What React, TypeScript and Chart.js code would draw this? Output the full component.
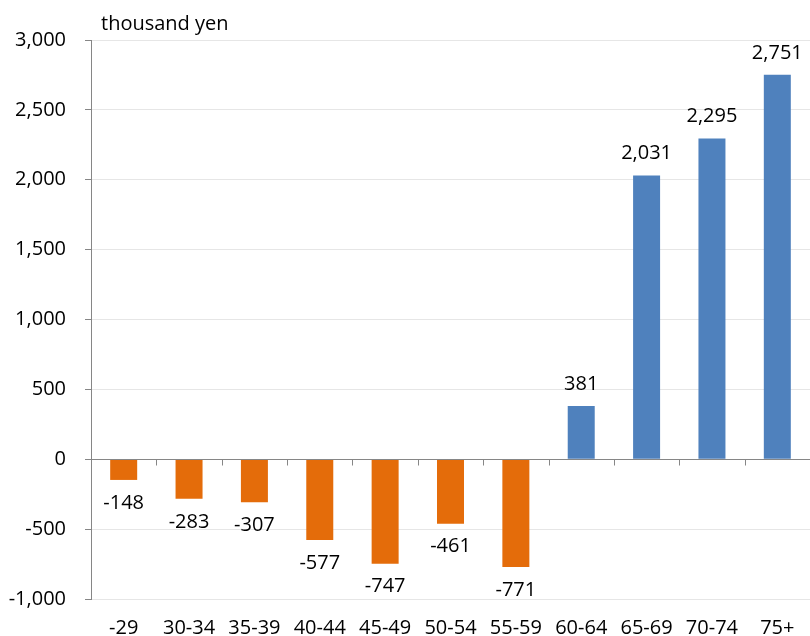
import React, { useEffect, useRef } from "react";
import { Chart, registerables } from "chart.js";

Chart.register(...registerables);

// Age groups of household head and the net figure for each (thousand yen)
const categories: string[] = ["-29", "30-34", "35-39", "40-44", "45-49", "50-54", "55-59", "60-64", "65-69", "70-74", "75+"];
const values: number[] = [-148, -283, -307, -577, -747, -461, -771, 381, 2031, 2295, 2751];

const yMin = -1000;
const yMax = 3000;
const yStep = 500;
const unitLabel = "thousand yen";

const FONT_FAMILY = "'Open Sans', 'Noto Sans', sans-serif";
const FONT_SIZE = 20;
const AXIS_GRAY = "#868686";
const GRID_GRAY = "#e6e6e6";
const NEG_COLOR = "#E46C0A";
const POS_COLOR = "#4F81BD";

const fmt = (v: number) => v.toLocaleString("en-US");

// Value labels above positive bars and below negative bars
const valueLabels = {
  id: "valueLabels",
  afterDatasetsDraw(chart: any) {
    const ctx = chart.ctx;
    const meta = chart.getDatasetMeta(0);
    const data = chart.data.datasets[0].data as number[];
    ctx.save();
    ctx.font = `${FONT_SIZE}px ${FONT_FAMILY}`;
    ctx.fillStyle = "#000";
    ctx.textAlign = "center";
    ctx.textBaseline = "middle";
    meta.data.forEach((bar: any, i: number) => {
      const v = data[i];
      const y = v >= 0 ? bar.y - 22 : bar.y + 23;
      ctx.fillText(fmt(v), bar.x, y);
    });
    ctx.restore();
  },
};

// Zero baseline with tick marks at category boundaries, plus the unit caption
const zeroAxis = {
  id: "zeroAxis",
  afterDatasetsDraw(chart: any) {
    const ctx = chart.ctx;
    const x = chart.scales.x;
    const y = chart.scales.y;
    const area = chart.chartArea;
    const y0 = Math.round(y.getPixelForValue(0)) + 0.5;
    ctx.save();
    ctx.strokeStyle = AXIS_GRAY;
    ctx.lineWidth = 1;
    ctx.beginPath();
    ctx.moveTo(area.left - 6, y0);
    ctx.lineTo(area.right, y0);
    const n = categories.length;
    const half = (x.getPixelForValue(1) - x.getPixelForValue(0)) / 2;
    for (let i = 1; i <= n; i++) {
      const bx = Math.round(x.getPixelForValue(i) - half) + 0.5;
      ctx.moveTo(bx, y0);
      ctx.lineTo(bx, y0 + 6);
    }
    ctx.stroke();

    ctx.font = `${FONT_SIZE}px ${FONT_FAMILY}`;
    ctx.fillStyle = "#000";
    ctx.textAlign = "left";
    ctx.textBaseline = "alphabetic";
    ctx.fillText(unitLabel, area.left + 10, 30);
    ctx.restore();
  },
};

export default function App() {
  const canvasRef = useRef<HTMLCanvasElement | null>(null);

  useEffect(() => {
    if (!canvasRef.current) return;
    const chart = new Chart(canvasRef.current, {
      type: "bar",
      data: {
        labels: categories,
        datasets: [
          {
            data: values,
            backgroundColor: values.map((v) => (v < 0 ? NEG_COLOR : POS_COLOR)),
            borderWidth: 0,
            barPercentage: 0.413,
            categoryPercentage: 1,
          },
        ],
      },
      options: {
        animation: false,
        responsive: true,
        maintainAspectRatio: false,
        layout: { padding: { top: 40, right: 0, left: 0, bottom: 0 } },
        plugins: {
          legend: { display: false },
          tooltip: { enabled: false },
          title: { display: false },
        },
        scales: {
          x: {
            grid: { display: false },
            border: { display: false },
            ticks: {
              color: "#000",
              font: { family: FONT_FAMILY, size: FONT_SIZE },
              padding: 9,
              maxRotation: 0,
              autoSkip: false,
            },
            afterFit: (scale: any) => {
              scale.height = 37;
            },
          },
          y: {
            min: yMin,
            max: yMax,
            border: { display: true, color: AXIS_GRAY },
            grid: {
              color: (c: any) => (c.tick && c.tick.value === 0 ? AXIS_GRAY : GRID_GRAY),
              tickColor: AXIS_GRAY,
              tickLength: 6,
            },
            ticks: {
              stepSize: yStep,
              color: "#000",
              font: { family: FONT_FAMILY, size: FONT_SIZE },
              padding: 19,
              callback: (v: any) => fmt(Number(v)),
            },
            afterFit: (scale: any) => {
              scale.width = 91;
            },
          },
        },
      },
      plugins: [valueLabels, zeroAxis],
    });
    return () => chart.destroy();
  }, []);

  return (
    <div style={{ position: "fixed", left: 0, top: 0, width: 810, height: 636, background: "#fff" }}>
      <canvas ref={canvasRef} />
    </div>
  );
}
